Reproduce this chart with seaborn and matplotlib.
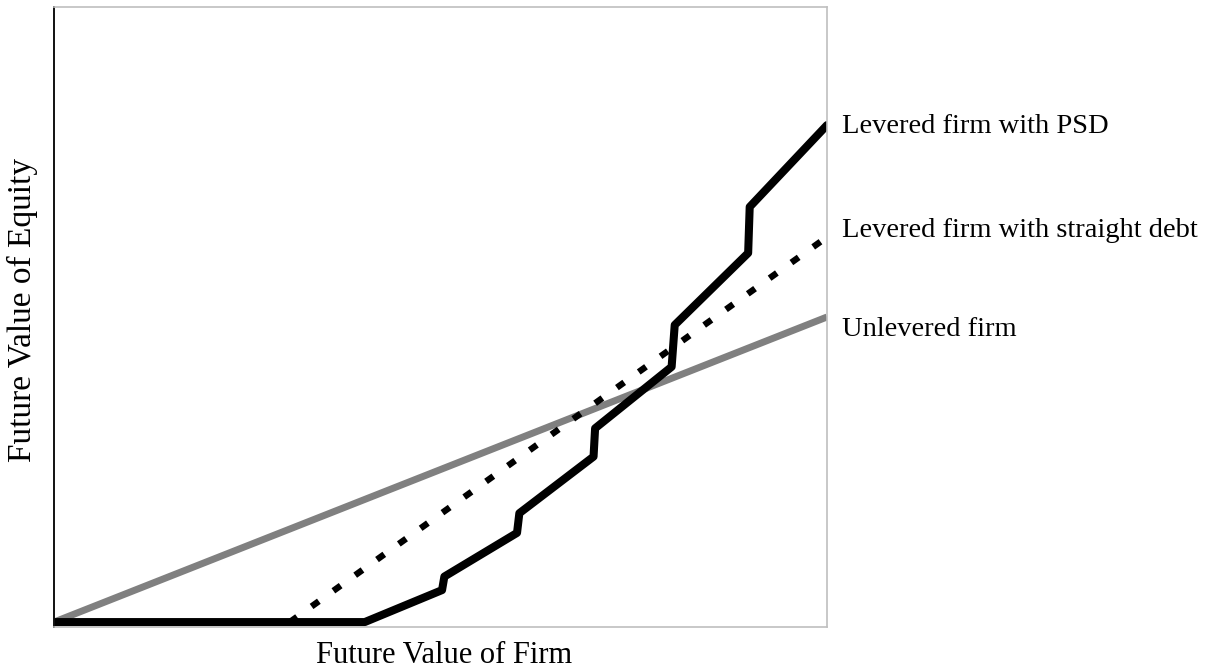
import numpy as np
import pandas as pd
import seaborn as sns
import matplotlib.pyplot as plt

# values (x: firm value 0-100, y: equity value)
unlevered_x = [0, 100]
unlevered_y = [0, 49.6]

straight_x = [30.5, 100]
straight_y = [0, 62.6]

psd_x = [0, 40.2, 50.2, 50.5, 59.9, 60.2, 69.8, 70.0, 79.9, 80.3, 89.8, 90.0, 100]
psd_y = [0, 0, 5.2, 7.4, 14.5, 17.7, 26.9, 31.5, 41.5, 48.3, 60.0, 67.5, 80.8]

labels = ["Levered firm with PSD", "Levered firm with straight debt", "Unlevered firm"]
label_y = [80.5, 63.7, 47.5]

sns.set_theme(style="white")
plt.rcParams['font.family'] = ['Liberation Serif', 'DejaVu Serif']

fig = plt.figure(figsize=(12.09, 6.72), dpi=100)
ax = fig.add_axes([54 / 1209, 45 / 672, 773 / 1209, 620 / 672])

sns.lineplot(x=unlevered_x, y=unlevered_y, color="#808080", lw=5.0,
             estimator=None, sort=False, ax=ax, solid_capstyle="butt")
sns.lineplot(x=straight_x, y=straight_y, color="black", lw=4.6,
             estimator=None, sort=False, ax=ax,
             linestyle=(0, (1.4, 2.8)), dash_capstyle="butt")
sns.lineplot(x=psd_x, y=psd_y, color="black", lw=5.8,
             estimator=None, sort=False, ax=ax,
             solid_joinstyle="round", solid_capstyle="round")

ax.set_xlim(0, 100)
ax.set_ylim(-0.8, 100)
ax.set_xticks([])
ax.set_yticks([])

for side in ["top", "right", "bottom"]:
    ax.spines[side].set_color("#bfbfbf")
    ax.spines[side].set_linewidth(1.2)
ax.spines["left"].set_color("#111111")
ax.spines["left"].set_linewidth(1.4)

for txt, yy in zip(labels, label_y):
    ax.text(102.0, yy, txt, fontsize=20.5, va="center", ha="left",
            color="black", clip_on=False)

ax.set_xlabel("Future Value of Firm", fontsize=22, color="black")
ax.set_ylabel("Future Value of Equity", fontsize=24, color="black")
ax.xaxis.set_label_coords(0.505, -0.022)
ax.yaxis.set_label_coords(-0.021, 0.511)

fig.savefig("out.png", dpi=100, facecolor="white")
